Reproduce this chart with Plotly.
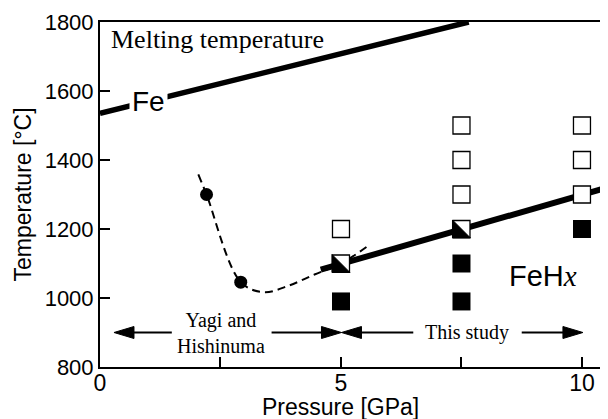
import plotly.graph_objects as go

# ---------------- data ----------------
melt_p = [0.0, 7.65]            # Fe melting line (GPa)
melt_t = [1535, 1800]           # (degC)

fehx_p = [4.58, 10.6]           # FeHx melting line
fehx_t = [1082, 1323]

yagi_curve_p = [2.04, 2.21, 2.92, 3.40, 3.90, 4.45, 5.00, 5.55]
yagi_curve_t = [1358, 1300, 1046, 1017, 1035, 1068, 1100, 1150]

yagi_pts_p = [2.21, 2.92]
yagi_pts_t = [1300, 1046]

open_p = [5.0, 7.5, 7.5, 7.5, 10.0, 10.0, 10.0]
open_t = [1200, 1300, 1400, 1500, 1300, 1400, 1500]

half_p = [5.0, 7.5]
half_t = [1100, 1200]

filled_p = [5.0, 7.5, 7.5, 10.0]
filled_t = [990, 990, 1100, 1200]

arrow_tail_p = [1.49, 3.56, 6.50, 8.75]
arrow_tip_p = [0.29, 5.01, 5.01, 10.02]
arrow_t = 900

x_tickvals = [0, 2.5, 5, 7.5, 10]
x_ticktext = ["0", "", "5", "", "10"]
y_tickvals = [800, 1000, 1200, 1400, 1600, 1800]

# ---------------- layout constants ----------------
OFF = 8                      # page body margin of the html page
W, H = 608 - OFF, 419 - OFF
ML, MR, MT, MB = 100 - OFF, 0, 22 - OFF, 52
XMAX = 10.54
YMIN, YMAX = 800, 1800
PW, PH = W - ML - MR, H - MT - MB
px_x = PW / XMAX
px_y = PH / (YMAX - YMIN)

SANS = "Liberation Sans, Arial, sans-serif"
SERIF = "Liberation Serif, Times New Roman, serif"

fig = go.Figure()

# dashed curve (Yagi and Hishinuma)
fig.add_trace(go.Scatter(x=yagi_curve_p, y=yagi_curve_t, mode="lines",
                         line=dict(color="black", width=2, dash="8px,5px", shape="spline", smoothing=1.0),
                         hoverinfo="skip", showlegend=False))
# Fe melting line
fig.add_trace(go.Scatter(x=melt_p, y=melt_t, mode="lines",
                         line=dict(color="black", width=5.5), showlegend=False))
# FeHx melting line
fig.add_trace(go.Scatter(x=fehx_p, y=fehx_t, mode="lines",
                         line=dict(color="black", width=6), showlegend=False))
# Yagi points
fig.add_trace(go.Scatter(x=yagi_pts_p, y=yagi_pts_t, mode="markers",
                         marker=dict(symbol="circle", size=13, color="black"), showlegend=False))
# open squares
fig.add_trace(go.Scatter(x=open_p, y=open_t, mode="markers",
                         marker=dict(symbol="square", size=17, color="white",
                                     line=dict(color="black", width=1.3)), showlegend=False))
# half-filled squares: white square then black lower-left triangle
fig.add_trace(go.Scatter(x=half_p, y=half_t, mode="markers",
                         marker=dict(symbol="square", size=17, color="white",
                                     line=dict(color="black", width=1.3)), showlegend=False))
hs = 9.0
tri_x, tri_y = [], []
for p, t in zip(half_p, half_t):
    dx, dy = hs / px_x, hs / px_y
    tri_x += [p - dx, p - dx, p + dx, p - dx, None]
    tri_y += [t + dy, t - dy, t - dy, t + dy, None]
fig.add_trace(go.Scatter(x=tri_x, y=tri_y, mode="lines", fill="toself", fillcolor="black",
                         line=dict(color="black", width=1), showlegend=False, hoverinfo="skip"))
# filled squares
fig.add_trace(go.Scatter(x=filled_p, y=filled_t, mode="markers",
                         marker=dict(symbol="square", size=18, color="black"), showlegend=False))

# arrows (shafts + heads)
head_len, head_half = 20.0, 6.0
sx, sy, hx, hy = [], [], [], []
for tl, tp in zip(arrow_tail_p, arrow_tip_p):
    sgn = 1 if tp > tl else -1
    base = tp - sgn * head_len / px_x
    sx += [tl, base + sgn * 0.05, None]
    sy += [arrow_t, arrow_t, None]
    hx += [tp, base, base, tp, None]
    hy += [arrow_t, arrow_t + head_half / px_y, arrow_t - head_half / px_y, arrow_t, None]
fig.add_trace(go.Scatter(x=sx, y=sy, mode="lines", line=dict(color="black", width=2),
                         showlegend=False, hoverinfo="skip"))
fig.add_trace(go.Scatter(x=hx, y=hy, mode="lines", fill="toself", fillcolor="black",
                         line=dict(color="black", width=1), showlegend=False, hoverinfo="skip"))

annotations = [
    dict(x=0.19, y=1748, text="Melting temperature", xanchor="left", yanchor="middle",
         showarrow=False, font=dict(family=SERIF, size=26, color="black")),
    dict(x=1.0, y=1571, text="Fe", xanchor="center", yanchor="middle", showarrow=False,
         bgcolor="white", borderpad=2, font=dict(family=SANS, size=28, color="black")),
    dict(x=8.45, y=1063, text="FeH<i style=\"font-family:'Liberation Serif'\">x</i>",
         xanchor="left", yanchor="middle", showarrow=False,
         font=dict(family=SANS, size=29, color="black")),
    dict(x=2.52, y=arrow_t, text="Yagi and<br>Hishinuma", xanchor="center", yanchor="middle",
         showarrow=False, font=dict(family=SERIF, size=20, color="black")),
    dict(x=7.62, y=arrow_t, text="This study", xanchor="center", yanchor="middle",
         showarrow=False, font=dict(family=SERIF, size=20, color="black")),
    dict(xref="paper", yref="paper", x=(22 - OFF - ML) / PW, y=0.5, text="Temperature [°C]",
         textangle=-90, xanchor="center", yanchor="middle", showarrow=False,
         font=dict(family=SANS, size=23, color="black")),
    dict(x=5.0, yref="paper", y=(H - MB - (407 - OFF)) / PH, text="Pressure [GPa]",
         xanchor="center", yanchor="middle", showarrow=False,
         font=dict(family=SANS, size=23, color="black")),
]

fig.update_layout(
    width=W, height=H, margin=dict(l=ML, r=MR, t=MT, b=MB, pad=0),
    paper_bgcolor="white", plot_bgcolor="white", showlegend=False,
    annotations=annotations,
    xaxis=dict(range=[0, XMAX], tickvals=x_tickvals, ticktext=x_ticktext,
               ticks="inside", ticklen=10, tickwidth=2, tickcolor="black",
               showline=True, linecolor="black", linewidth=2, mirror=True,
               showgrid=False, zeroline=False, ticklabelstandoff=-6,
               tickfont=dict(family=SANS, size=23, color="black")),
    yaxis=dict(range=[YMIN, YMAX], tickvals=y_tickvals,
               ticks="inside", ticklen=10, tickwidth=2, tickcolor="black",
               showline=True, linecolor="black", linewidth=2, mirror=False,
               showgrid=False, zeroline=False,
               tickfont=dict(family=SANS, size=22, color="black")),
)

fig.write_html("out.html")
